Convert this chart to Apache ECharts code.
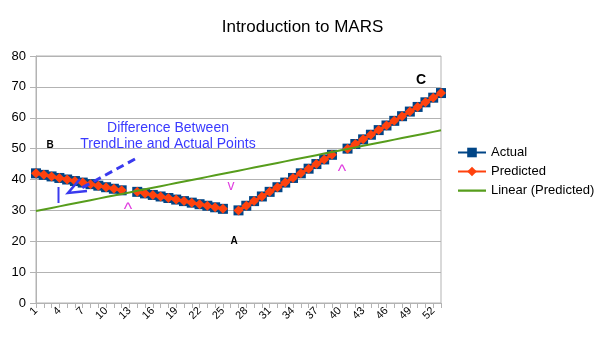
<!DOCTYPE html>
<html>
<head>
<meta charset="utf-8">
<script src="https://cdn.jsdelivr.net/npm/echarts@6/dist/echarts.min.js"></script>
<style>html,body{margin:0;padding:0;background:#fff}#c{width:605px;height:340px}</style>
</head>
<body>
<div id="c"></div>
<script>
var categories = ['1','2','3','4','5','6','7','8','9','10','11','12','13','14','15','16','17','18','19','20',
  '21','22','23','24','25','26','27','28','29','30','31','32','33','34','35','36','37','38','39','40',
  '41','42','43','44','45','46','47','48','49','50','51','52','53'];
var actual = [42,41.5,41,40.5,40,39.5,39,38.5,38,37.5,37,36.5,null,
  36,35.5,35,34.5,34,33.5,33,32.5,32,31.5,31,30.5,null,
  30,31.5,33,34.5,36,37.5,39,40.5,42,43.5,45,46.5,48,null,
  50,51.5,53,54.5,56,57.5,59,60.5,62,63.5,65,66.5,68];
var predicted = [42,41.5,41,40.5,40,39.5,39,38.5,38,37.5,37,36.5,null,
  36,35.5,35,34.5,34,33.5,33,32.5,32,31.5,31,30.5,null,
  30,31.5,33,34.5,36,37.5,39,40.5,42,43.5,45,46.5,48,null,
  50,51.5,53,54.5,56,57.5,59,60.5,62,63.5,65,66.5,68];
var yTicks = [0,10,20,30,40,50,60,70,80];

// least-squares linear trend of Predicted (x = category index 1..n)
function trend(vals){
  var n=0,sx=0,sy=0,sxy=0,sxx=0;
  vals.forEach(function(v,i){ if(v==null) return; var x=i+1; n++; sx+=x; sy+=v; sxy+=x*v; sxx+=x*x; });
  var b=(n*sxy-sx*sy)/(n*sxx-sx*sx), a=(sy-b*sx)/n;
  return vals.map(function(v,i){ return +(a+b*(i+1)).toFixed(3); });
}
var linear = trend(predicted);

var chart = echarts.init(document.getElementById('c'), null, {renderer:'canvas'});
var F = 'Liberation Sans, Arial, sans-serif';
chart.setOption({
  animation:false,
  backgroundColor:'#fff',
  textStyle:{fontFamily:F},
  title:{text:'Introduction to MARS', left:'center', top:14,
    textStyle:{fontSize:17, fontWeight:'normal', color:'#000', fontFamily:F}},
  grid:{left:36, right:164, top:56, bottom:37, show:true, borderColor:'#b3b3b3', borderWidth:1},
  legend:{orient:'vertical', left:452, top:141, itemWidth:28, itemHeight:12, itemGap:6,
    textStyle:{fontSize:13, color:'#000', fontFamily:F},
    data:['Actual','Predicted',{name:'Linear (Predicted)',
      icon:'path://M0,0h0.01v0.01h-0.01z M0,5h28v2.2h-28z M27.99,11.99h0.01v0.01h-0.01z'}]},
  xAxis:{type:'category', data:categories, boundaryGap:false,
    axisLine:{lineStyle:{color:'#b3b3b3'}},
    axisTick:{show:true, interval:0, length:5, lineStyle:{color:'#b3b3b3'}},
    axisLabel:{interval:2, rotate:45, fontSize:11, color:'#000', margin:6, fontFamily:F},
    splitLine:{show:false}},
  yAxis:{type:'value', min:0, max:80, interval:10,
    axisLine:{show:true, lineStyle:{color:'#b3b3b3'}},
    axisTick:{show:true, length:6, lineStyle:{color:'#b3b3b3'}},
    axisLabel:{fontSize:13, color:'#000', margin:10, fontFamily:F},
    splitLine:{lineStyle:{color:'#b3b3b3'}}},
  series:[
    {name:'Actual', type:'line', data:actual, connectNulls:false,
      symbol:'rect', symbolSize:10, showAllSymbol:true,
      lineStyle:{color:'#004586', width:3}, itemStyle:{color:'#004586'}, z:2},
    {name:'Predicted', type:'line', data:predicted, connectNulls:false,
      symbol:'diamond', symbolSize:10, showAllSymbol:true,
      lineStyle:{color:'#ff420e', width:3}, itemStyle:{color:'#ff420e'}, z:3},
    {name:'Linear (Predicted)', type:'line', data:linear, symbol:'none',
      lineStyle:{color:'#579d1c', width:2}, itemStyle:{color:'#579d1c'}, z:4}
  ],
  graphic:[
    {type:'text', style:{text:'Difference Between', x:168, y:128, fill:'#3a3aff', font:'14px '+F, textAlign:'center', textVerticalAlign:'middle'}, z:10},
    {type:'text', style:{text:'TrendLine and Actual Points', x:168, y:144, fill:'#3a3aff', font:'14px '+F, textAlign:'center', textVerticalAlign:'middle'}, z:10},
    {type:'text', style:{text:'B', x:50, y:145, fill:'#000', font:'bold 10px '+F, textAlign:'center', textVerticalAlign:'middle'}, z:10},
    {type:'text', style:{text:'A', x:234, y:241, fill:'#000', font:'bold 10px '+F, textAlign:'center', textVerticalAlign:'middle'}, z:10},
    {type:'text', style:{text:'C', x:421, y:80, fill:'#000', font:'bold 14px '+F, textAlign:'center', textVerticalAlign:'middle'}, z:10},
    {type:'text', style:{text:'^', x:128, y:210, fill:'#e040e0', font:'18px '+F, textAlign:'center', textVerticalAlign:'middle'}, z:10},
    {type:'text', style:{text:'^', x:342, y:172, fill:'#e040e0', font:'18px '+F, textAlign:'center', textVerticalAlign:'middle'}, z:10},
    {type:'text', style:{text:'v', x:231, y:186, fill:'#e040e0', font:'14px '+F, textAlign:'center', textVerticalAlign:'middle'}, z:10},
    {type:'line', shape:{x1:135, y1:159, x2:78, y2:190}, style:{stroke:'#3a3aee', lineWidth:3, lineDash:[8,5]}, z:10},
    {type:'polyline', shape:{points:[[80,179],[68,193],[87,191]]}, style:{stroke:'#3a3aee', lineWidth:2.5, fill:null}, z:10},
    {type:'line', shape:{x1:58.5, y1:187, x2:58.5, y2:203}, style:{stroke:'#3a3aee', lineWidth:2}, z:10}
  ]
});
</script>
</body>
</html>
